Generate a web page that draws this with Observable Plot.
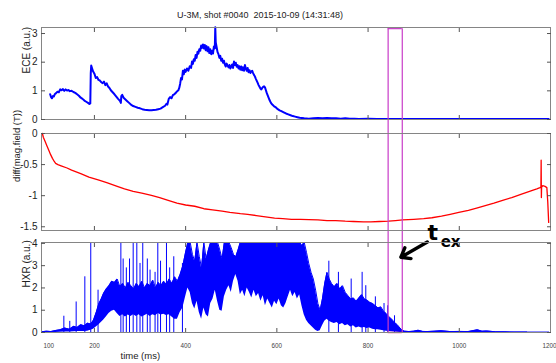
<!DOCTYPE html>
<html><head><meta charset="utf-8">
<script src="https://cdn.jsdelivr.net/npm/d3@7"></script>
<script src="https://cdn.jsdelivr.net/npm/@observablehq/plot@0.6"></script>
<style>
body{margin:0;background:#fff;}
#wrap{position:relative;width:556px;height:363px;overflow:hidden;font-family:"Liberation Sans",Arial,sans-serif;background:#fff;}
.panel{position:absolute;left:0;}
#title{position:absolute;left:0;width:520px;top:10px;text-align:center;font-size:9px;line-height:11px;white-space:pre;color:#222;}
</style></head><body>
<div id="wrap"><div id="title">U-3M, shot #0040  2015-10-09 (14:31:48)</div></div>
<script>
// ---------- data ----------
const titleText = "U-3M, shot #0040  2015-10-09 (14:31:48)";
const xTickValues = [200, 400, 600, 800, 1000];
const xTickLabels = [100, 200, 400, 600, 800, 1000];
const xLastLabel = [1200];
const xLabel = "time (ms)";

const eceTicks = [0, 1, 2, 3];
const bTicks = [0, -0.5, -1, -1.5];
const hxrTicks = [0, 1, 2, 3, 4];
const eceLabel = "ECE (a.u.)";
const bLabel = "diff(mag.field (T))";
const hxrLabel = "HXR (a.u.)";

// ECE trace (time ms, a.u.)
const eceT = [103,105,107,109,111,113,116,119,122,125,128,131,134,137,140,143,146,150,154,158,162,166,170,174,178,182,186,189,191,192,193,195,197,200,203,206,209,212,215,218,221,224,227,230,233,236,240,244,248,252,256,258,259,261,264,268,272,276,280,285,290,295,300,305,310,315,320,325,330,335,340,345,350,355,358,360,363,366,369,372,375,378,381,384,386,388,390,392,394,396,398,400,403,406,409,412,414,416,418,420,422,424,426,428,430,432,434,436,438,440,442,444,446,448,450,452,454,456,458,460,462,464,465,466,468,470,472,474,476,478,480,482,484,486,488,490,492,494,496,498,500,502,504,506,508,510,512,514,516,518,520,522,524,526,528,530,532,534,536,538,540,542,544,546,548,550,552,554,556,558,560,562,564,566,568,570,572,574,576,578,581,584,587,590,594,598,602,606,610,615,620,625,630,635,640,645,650,655,660,670,680,690,700,710,720,730,740,750,760,770,780,800,820,850,900,950,1000,1100,1196];
const eceV = [0.88,0.78,0.74,0.82,0.80,0.88,0.92,0.97,0.95,1.05,1.02,1.06,1.00,1.05,1.01,1.03,0.99,1.00,0.96,0.93,0.88,0.83,0.76,0.72,0.66,0.62,0.58,0.54,0.56,1.60,1.88,1.78,1.68,1.60,1.45,1.48,1.38,1.36,1.30,1.27,1.32,1.20,1.26,1.15,1.10,1.02,0.95,0.88,0.80,0.72,0.65,0.58,0.82,0.86,0.76,0.70,0.64,0.58,0.52,0.47,0.44,0.41,0.39,0.36,0.34,0.33,0.32,0.32,0.33,0.34,0.36,0.38,0.43,0.48,0.55,0.52,0.72,0.78,0.74,0.85,0.88,0.92,0.98,1.02,1.10,1.25,1.45,1.40,1.70,1.58,1.74,1.66,1.78,1.70,1.86,1.80,2.02,1.94,2.10,2.05,2.25,2.15,2.36,2.30,2.45,2.40,2.58,2.50,2.62,2.48,2.60,2.42,2.56,2.38,2.52,2.32,2.45,2.28,2.40,2.30,2.55,2.48,3.22,2.70,2.52,2.35,2.28,2.15,2.22,2.05,2.12,1.98,2.05,1.92,1.85,1.95,1.88,1.82,1.90,1.78,1.85,1.92,1.80,2.02,1.90,1.98,1.84,1.90,1.78,1.86,1.74,1.85,1.72,1.82,1.70,1.90,1.78,1.70,1.80,1.65,1.72,1.62,1.68,1.70,1.62,1.55,1.50,1.42,1.35,1.28,1.20,1.14,1.08,1.05,1.10,1.14,1.16,1.12,1.02,0.92,0.80,0.68,0.58,0.52,0.46,0.42,0.36,0.32,0.29,0.25,0.21,0.18,0.15,0.12,0.10,0.08,0.06,0.05,0.04,0.03,0.04,0.05,0.04,0.05,0.04,0.04,0.03,0.04,0.03,0.03,0.02,0.03,0.02,0.02,0.02,0.02,0.02,0.02,0.02];

// diff(mag.field) trace (time ms, T)
const bT = [86,88,92,96,100,104,108,112,115,120,127,140,150,170,188,210,227,250,266,285,304,325,343,360,381,400,420,440,459,480,497,520,536,555,575,595,613,632,652,670,690,710,729,750,768,790,806,825,845,860,876,900,922,940,961,980,999,1020,1038,1057,1076,1095,1115,1135,1154,1170,1177,1179,1179.5,1180,1180.5,1183,1188,1192,1194,1196];
const bV = [0,-0.06,-0.13,-0.2,-0.27,-0.34,-0.40,-0.45,-0.48,-0.50,-0.52,-0.555,-0.59,-0.645,-0.70,-0.75,-0.79,-0.85,-0.89,-0.93,-0.96,-0.995,-1.03,-1.07,-1.12,-1.15,-1.17,-1.21,-1.23,-1.25,-1.27,-1.29,-1.30,-1.32,-1.34,-1.36,-1.37,-1.38,-1.38,-1.385,-1.39,-1.40,-1.40,-1.41,-1.415,-1.42,-1.42,-1.415,-1.41,-1.40,-1.39,-1.38,-1.37,-1.355,-1.33,-1.30,-1.27,-1.235,-1.20,-1.16,-1.12,-1.075,-1.03,-0.98,-0.93,-0.89,-0.87,-0.86,-0.43,-1.03,-0.86,-0.84,-0.85,-0.87,-1.10,-1.43];

// HXR envelope (time ms, lower, upper a.u.)
const hxrT = [84,95,105,115,125,135,145,155,162,170,178,185,192,198,204,210,215,220,226,232,238,244,250,256,262,268,274,280,286,292,298,304,310,316,322,328,334,340,346,352,358,364,370,376,382,388,394,400,405,410,415,420,425,430,435,440,445,450,455,460,465,470,475,480,485,490,495,500,505,510,515,520,525,530,535,540,545,550,555,560,565,570,575,580,585,590,595,600,605,610,615,620,625,630,635,640,645,650,655,660,665,670,675,680,685,690,695,700,705,710,715,720,726,732,738,744,750,756,762,768,774,780,786,792,798,804,810,816,822,828,834,840,846,852,858,864,870,875,880,890,900,910,920,930,945,960,980,1000,1020,1040,1050,1060,1080,1100,1120,1150,1196];
const hxrLo = [0,0,0,0,0.01,0.02,0.02,0.03,0.04,0.05,0.04,0.06,0.1,0.15,0.25,0.35,0.45,0.55,0.7,0.85,0.95,1.0,0.85,0.72,0.8,0.7,0.78,0.72,0.8,0.72,0.8,0.7,0.75,0.82,0.72,0.8,0.75,0.85,0.78,0.82,0.76,0.8,0.7,0.6,0.6,0.9,1.1,1.6,2.0,1.8,1.3,1.05,1.4,0.9,0.6,1.1,0.8,0.7,1.3,1.5,1.9,1.4,1.0,0.95,1.6,1.9,2.1,1.8,2.3,2.6,2.3,1.7,1.9,1.6,2.0,1.8,1.55,1.9,1.6,1.75,1.4,1.65,1.2,1.5,1.3,1.1,1.4,1.25,1.5,1.2,1.1,1.3,1.6,1.9,1.6,1.8,1.5,1.7,1.2,0.8,0.55,0.4,0.3,0.2,0.1,0.05,0.08,0.3,0.5,0.6,0.5,0.45,0.4,0.45,0.35,0.4,0.3,0.35,0.25,0.3,0.2,0.25,0.2,0.22,0.18,0.2,0.15,0.12,0.12,0.1,0.08,0.06,0.04,0.03,0.02,0.01,0,0,0,0,0,0,0,0,0,0,0,0,0,0,0,0,0,0,0,0];
const hxrHi = [0.03,0.06,0.04,0.09,0.12,0.2,0.15,0.28,0.22,0.35,0.3,0.42,0.38,0.55,0.9,1.3,1.5,1.75,1.95,2.1,2.3,2.25,2.4,2.05,2.2,2.0,2.25,2.1,1.95,2.2,2.05,2.3,2.0,2.2,2.1,2.35,2.0,2.25,2.1,2.3,2.15,2.4,2.2,2.5,2.3,2.6,3.0,3.6,4.05,4.05,3.5,3.2,4.05,3.4,2.9,4.05,3.3,3.7,4.05,4.05,4.05,4.05,3.7,3.3,4.05,4.05,4.05,3.8,3.5,3.4,3.7,4.05,4.05,4.05,4.05,4.05,4.05,4.05,4.05,4.05,4.05,4.05,4.05,4.05,4.05,4.05,4.05,4.05,4.05,4.05,4.05,4.05,4.05,4.05,4.05,4.05,4.05,4.05,3.9,4.05,3.6,3.1,2.7,2.4,1.9,1.3,1.0,1.5,2.2,2.7,2.4,2.2,2.05,2.2,1.95,2.1,1.8,1.65,1.5,1.55,1.4,1.55,1.7,1.5,1.45,1.35,1.3,1.2,1.1,1.15,0.95,0.85,0.7,0.6,0.45,0.35,0.2,0.1,0.06,0.04,0.06,0.1,0.05,0.04,0.06,0.08,0.04,0.05,0.04,0.12,0.06,0.07,0.03,0.03,0.02,0.02,0.02];
// isolated HXR spikes (time ms, height a.u.)
const spikeT = [133,146,160,179,192,208,258,263,270,277,285,293,300,306,316,322,333,339,345,358,365,374,393,714,735,763,787,795,816,835,843,858];
const spikeTop = [0.73,0.5,1.37,2.5,4.05,1.9,4.05,3.3,2.9,3.3,4.05,4.05,3.1,4.05,3.3,2.8,2.7,4.05,3.2,4.05,2.9,3.4,3.1,3.2,2.7,2.4,2.7,2.1,1.6,1.3,1.2,0.75];

// annotation: t_ex window
const texWindow = [844, 875];
const eceBoxTop = 3.17;
const texArrow = {x1: 930, y1: 4.06, x2: 872, y2: 3.38};
const texMain = {x: 942, y: 4.14, text: "t"};
const texSub = {x: 981, y: 3.84, text: "ex"};

// ---------- build ----------
const ece = eceT.map((t, i) => ({t, v: eceV[i]}));
const bfield = bT.map((t, i) => ({t, v: bV[i]}));
const hxr = hxrT.map((t, i) => ({t, lo: hxrLo[i], hi: hxrHi[i]}));
const spikes = spikeT.map((t, i) => ({t, top: spikeTop[i]}));

const W = 556, ML = 41, MR = 6;
const xDomain = [84, 1200];
const frameColor = "#858585";
const tickColor = "#555";
const magenta = "#c83cc8";
const font = "'Liberation Sans', Arial, sans-serif";
const wrap = document.getElementById("wrap");

function panel({top, height, mt, mb, yDomain, yTicks, ylabel, ylabelSize, ylabelDx, marks, bottomLabels}) {
  const all = [
    ...marks,
    Plot.frame({stroke: frameColor}),
    Plot.axisX(xTickValues, {anchor: "bottom", tickSize: -4, tickFormat: () => "", stroke: tickColor, label: null}),
    Plot.axisX(xTickValues, {anchor: "top", tickSize: -4, tickFormat: () => "", stroke: tickColor, label: null}),
    Plot.axisY(yTicks, {anchor: "left", tickSize: -4, tickFormat: () => "", stroke: tickColor, label: null}),
    Plot.axisY(yTicks, {anchor: "right", tickSize: -4, tickFormat: () => "", stroke: tickColor, label: null}),
    Plot.axisY(yTicks, {anchor: "left", tickSize: 0, tickPadding: 4, tickFormat: d => String(d), fontSize: 10, fill: "#222", label: null}),
    Plot.text([ylabel], {frameAnchor: "left", rotate: -90, dx: ylabelDx, fontSize: ylabelSize, fill: "#222", lineAnchor: "middle"})
  ];
  if (bottomLabels) {
    all.push(Plot.axisX(xTickLabels, {anchor: "bottom", tickSize: 0, tickPadding: 11, tickFormat: d => String(d), fontSize: 6.3, fill: "#444", label: null}));
    all.push(Plot.text(xLastLabel, {x: d => d, text: d => String(d), frameAnchor: "bottom", textAnchor: "end", lineAnchor: "top", dx: 6, dy: 11, fontSize: 6.3, fill: "#444"}));
    all.push(Plot.text([xLabel], {frameAnchor: "bottom-left", textAnchor: "start", dx: 79, dy: 26, fontSize: 9.5, fill: "#222"}));
  }
  const svg = Plot.plot({
    width: W, height, marginLeft: ML, marginRight: MR, marginTop: mt, marginBottom: mb,
    style: {background: "transparent", overflow: "visible", fontFamily: font},
    x: {domain: xDomain, axis: null},
    y: {domain: yDomain, axis: null},
    marks: all
  });
  const d = document.createElement("div");
  d.className = "panel";
  d.style.top = top + "px";
  d.appendChild(svg);
  wrap.appendChild(d);
}

// ECE
panel({
  top: 20, height: 106, mt: 7, mb: 7, yDomain: [0, 3.21], yTicks: eceTicks,
  ylabel: eceLabel, ylabelSize: 10, ylabelDx: -15,
  marks: [
    Plot.line(ece, {x: "t", y: "v", stroke: "#0000ff", strokeWidth: 2}),
    Plot.ruleX(texWindow, {y1: eceBoxTop, y2: 0, insetBottom: -14, stroke: magenta, strokeWidth: 1.2}),
    Plot.ruleY([eceBoxTop], {x1: texWindow[0], x2: texWindow[1], stroke: magenta, strokeWidth: 1.2})
  ]
});

// diff(mag.field)
panel({
  top: 126, height: 110, mt: 7, mb: 6, yDomain: [-1.56, 0], yTicks: bTicks,
  ylabel: bLabel, ylabelSize: 9.5, ylabelDx: -25,
  marks: [
    Plot.line(bfield, {x: "t", y: "v", stroke: "#ff0000", strokeWidth: 1.3}),
    Plot.ruleX(texWindow, {insetBottom: -12, stroke: magenta, strokeWidth: 1.2})
  ]
});

// HXR
panel({
  top: 235, height: 128, mt: 7, mb: 31, yDomain: [0, 4.04], yTicks: hxrTicks,
  ylabel: hxrLabel, ylabelSize: 10, ylabelDx: -15, bottomLabels: true,
  marks: [
    Plot.areaY(hxr, {x: "t", y1: "lo", y2: "hi", fill: "#0000ff", clip: true}),
    Plot.line(hxr, {x: "t", y: "hi", stroke: "#0000ff", strokeWidth: 1, clip: true}),
    Plot.ruleX(spikes, {x: "t", y1: 0, y2: "top", stroke: "#0000ff", strokeWidth: 1, clip: true}),
    Plot.ruleX(texWindow, {stroke: magenta, strokeWidth: 1.2}),
    Plot.ruleY([0], {x1: texWindow[0], x2: texWindow[1], stroke: "#e0207a", strokeWidth: 1.4}),
    Plot.arrow([texArrow], {x1: "x1", y1: "y1", x2: "x2", y2: "y2", stroke: "#000", strokeWidth: 3.4, headLength: 13, headAngle: 75}),
    Plot.text([texMain], {x: "x", y: "y", text: "text", lineAnchor: "bottom", fontSize: 22, fontWeight: "bold", fontFamily: "DejaVu Sans", fill: "#000"}),
    Plot.text([texSub], {x: "x", y: "y", text: "text", lineAnchor: "bottom", fontSize: 15, fontWeight: "bold", fontFamily: "DejaVu Sans", fill: "#000"})
  ]
});
</script>
</body></html>
